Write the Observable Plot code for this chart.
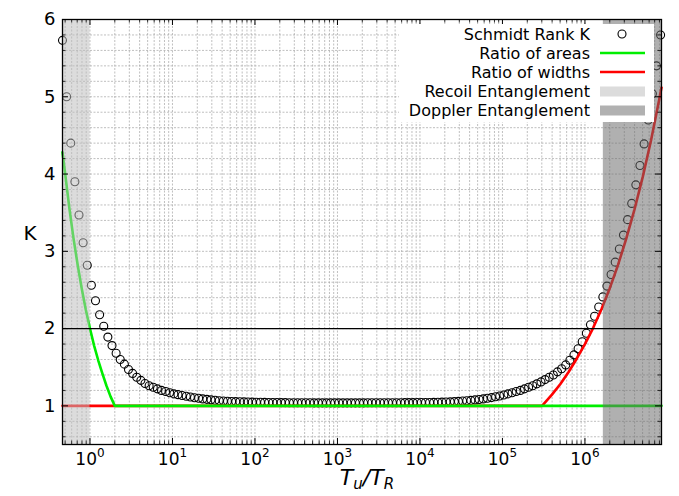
<!DOCTYPE html>
<html><head><meta charset="utf-8">
<script src="https://cdn.jsdelivr.net/npm/d3@7"></script>
<script src="https://cdn.jsdelivr.net/npm/@observablehq/plot@0.6"></script>
<style>body{margin:0;background:#fff;} svg{font-family:"DejaVu Sans",sans-serif;}</style>
</head><body><div id="chart"></div>
<script>
// log10 of T_u/T_R for each Schmidt-rank sample
const schmidtExp = [
-0.333,-0.283,-0.233,-0.183,-0.133,-0.083,-0.033,0.017,0.067,0.117,
0.167,0.217,0.267,0.317,0.367,0.417,0.467,0.517,0.567,0.617,
0.667,0.717,0.767,0.817,0.867,0.917,0.967,1.017,1.067,1.117,
1.167,1.217,1.267,1.317,1.367,1.417,1.467,1.517,1.567,1.617,
1.667,1.717,1.767,1.817,1.867,1.917,1.967,2.017,2.067,2.117,
2.167,2.217,2.267,2.317,2.367,2.417,2.467,2.517,2.567,2.617,
2.667,2.717,2.767,2.817,2.867,2.917,2.967,3.017,3.067,3.117,
3.167,3.217,3.267,3.317,3.367,3.417,3.467,3.517,3.567,3.617,
3.667,3.717,3.767,3.817,3.867,3.917,3.967,4.017,4.067,4.117,
4.167,4.217,4.267,4.317,4.367,4.417,4.467,4.517,4.567,4.617,
4.667,4.717,4.767,4.817,4.867,4.917,4.967,5.017,5.067,5.117,
5.167,5.217,5.267,5.317,5.367,5.417,5.467,5.517,5.567,5.617,
5.667,5.717,5.767,5.817,5.867,5.917,5.967,6.017,6.067,6.117,
6.167,6.217,6.267,6.317,6.367,6.417,6.467,6.517,6.567,6.617,
6.667,6.717,6.767,6.817,6.867,6.917];
const schmidtK = [
5.73,5.00,4.40,3.90,3.47,3.11,2.82,2.56,2.36,2.18,
2.03,1.89,1.78,1.68,1.60,1.54,1.47,1.42,1.37,1.33,
1.29,1.26,1.24,1.22,1.20,1.185,1.17,1.155,1.145,1.135,
1.125,1.115,1.105,1.098,1.09,1.084,1.078,1.072,1.067,1.063,
1.06,1.057,1.055,1.053,1.051,1.05,1.048,1.047,1.046,1.045,
1.044,1.043,1.043,1.042,1.042,1.041,1.041,1.040,1.040,1.040,
1.040,1.039,1.039,1.039,1.039,1.039,1.039,1.039,1.039,1.039,
1.039,1.039,1.039,1.039,1.040,1.040,1.040,1.040,1.041,1.041,
1.041,1.041,1.041,1.042,1.042,1.042,1.043,1.043,1.044,1.044,
1.045,1.046,1.048,1.05,1.052,1.055,1.058,1.062,1.066,1.071,
1.077,1.083,1.09,1.098,1.107,1.117,1.128,1.14,1.155,1.17,
1.185,1.20,1.22,1.24,1.26,1.285,1.31,1.34,1.37,1.40,
1.44,1.48,1.53,1.59,1.66,1.74,1.83,1.94,2.05,2.16,
2.28,2.41,2.55,2.70,2.86,3.03,3.21,3.41,3.62,3.86,
4.11,4.39,4.70,5.04,5.40,5.80];

const areaExp = [-0.333,-0.3,-0.25,-0.2,-0.15,-0.1,-0.05,0,0.05,0.1,0.15,0.2,0.25,0.301,6.928];
const areaK   = [4.28,4.0,3.56,3.17,2.83,2.52,2.24,2.0,1.78,1.59,1.42,1.26,1.12,1.0,1.0];

const widthExp = [-0.333,5.48,5.6,5.7,5.8,5.9,6.0,6.1,6.2,6.3,6.4,6.5,6.6,6.7,6.8,6.9,6.928];
const widthK   = [1,1,1.145,1.28,1.435,1.61,1.80,2.01,2.25,2.52,2.82,3.16,3.54,3.96,4.43,4.96,5.12];

const recoilExp = [-0.333, 0];
const dopplerExp = [6.223, 6.928];
const thresholdK = [2];

const xTickExp = [0,1,2,3,4,5,6];
const yTicks = [1,2,3,4,5,6];
const legendLabels = ["Schmidt Rank K","Ratio of areas","Ratio of widths","Recoil Entanglement","Doppler Entanglement"];

const xDomain = [10 ** -0.333, 10 ** 6.928];
const yDomain = [0.5, 6];

const schmidt = schmidtExp.map((e, i) => ({x: 10 ** e, k: schmidtK[i]}));
const areas = areaExp.map((e, i) => ({x: 10 ** e, k: areaK[i]}));
const widths = widthExp.map((e, i) => ({x: 10 ** e, k: widthK[i]}));
const spans = [
  {x1: 10 ** recoilExp[0], x2: 10 ** recoilExp[1], fill: "#bdbdbd"},
  {x1: 10 ** dopplerExp[0], x2: 10 ** dopplerExp[1], fill: "#6a6a6a"}
];

// tick positions (log decades with 2..9 minors)
const xMajor = xTickExp.map(e => 10 ** e);
const xMinor = [];
for (let e = -1; e <= 6; e++) for (let m = 2; m <= 9; m++) {
  const v = m * 10 ** e;
  if (v >= xDomain[0] && v <= xDomain[1]) xMinor.push(v);
}
const yMinor = [];
for (let v = 6; v <= 60; v += 2) if (v % 10 !== 0) yMinor.push(v / 10);
const yAllGrid = [];
for (let v = 6; v <= 60; v += 2) yAllGrid.push(v / 10);

const W = 679, H = 496, mL = 62, mR = 18, mT = 19, mB = 52;
const pH = H - mT - mB, pW = W - mL - mR;
const gridStyle = {stroke: "#a0a0a0", strokeWidth: 0.8, strokeDasharray: "2,1.5", strokeOpacity: 0.85};

const plot = Plot.plot({
  width: W, height: H,
  marginLeft: mL, marginRight: mR, marginTop: mT, marginBottom: mB,
  x: {type: "log", domain: xDomain, label: null},
  y: {domain: yDomain, label: null},
  style: {fontFamily: "DejaVu Sans, sans-serif", fontSize: "17px", background: "white", color: "black"},
  marks: [
    Plot.ruleX(xMajor.concat(xMinor), {x: d => d, ...gridStyle}),
    Plot.ruleY(yAllGrid, {y: d => d, ...gridStyle}),
    Plot.dot(schmidt, {x: "x", y: "k", r: 4, stroke: "black", fill: "none", strokeWidth: 1.1}),
    Plot.line(widths, {x: "x", y: "k", stroke: "#ff0000", strokeWidth: 2.6}),
    Plot.line(areas, {x: "x", y: "k", stroke: "#00ee00", strokeWidth: 2.6}),
    Plot.rect(spans, {x1: "x1", x2: "x2", fill: "fill", fillOpacity: 0.53}),
    Plot.ruleY(thresholdK, {y: d => d, stroke: "black", strokeWidth: 1.3}),
    // inward ticks on all four sides
    Plot.ruleX(xMajor, {x: d => d, insetTop: pH - 6, stroke: "black", strokeWidth: 1}),
    Plot.ruleX(xMinor, {x: d => d, insetTop: pH - 3.5, stroke: "black", strokeWidth: 0.8}),
    Plot.ruleX(xMajor, {x: d => d, insetBottom: pH - 6, stroke: "black", strokeWidth: 1}),
    Plot.ruleX(xMinor, {x: d => d, insetBottom: pH - 3.5, stroke: "black", strokeWidth: 0.8}),
    Plot.ruleY(yTicks, {y: d => d, insetRight: pW - 6, stroke: "black", strokeWidth: 1}),
    Plot.ruleY(yMinor, {y: d => d, insetRight: pW - 3.5, stroke: "black", strokeWidth: 0.8}),
    Plot.ruleY(yTicks, {y: d => d, insetLeft: pW - 6, stroke: "black", strokeWidth: 1}),
    Plot.ruleY(yMinor, {y: d => d, insetLeft: pW - 3.5, stroke: "black", strokeWidth: 0.8}),
    Plot.frame({stroke: "black", strokeWidth: 1.3}),
    Plot.axisX({ticks: xMajor, tickSize: 0, tickPadding: 8,
      tickFormat: d => "10^" + Math.round(Math.log10(d)), label: null}),
    Plot.axisY({ticks: yTicks, tickSize: 0, tickPadding: 7, tickFormat: d => String(d), label: null}),
    Plot.text(["K"], {text: d => d, frameAnchor: "left", dx: -39, dy: 2})
  ]
});

const svg = d3.select(plot);
// font sizes
svg.selectAll('g[aria-label="y-axis tick label"]').attr("font-size", "18px");
svg.selectAll('g[aria-label="x-axis tick label"]').attr("font-size", "17px");
svg.selectAll('g[aria-label="text"]').attr("font-size", "20px");
// superscript exponents on x tick labels
svg.selectAll('g[aria-label="x-axis tick label"] text').each(function () {
  const parts = this.textContent.split("^");
  const s = d3.select(this);
  s.text(parts[0]);
  s.append("tspan").attr("dy", "-8").attr("font-size", "12px").text(parts[1]);
});

// x axis title T_u / T_R
const xl = svg.append("text").attr("x", 367).attr("y", 485).attr("text-anchor", "middle")
  .attr("font-size", 22).attr("font-style", "italic").attr("fill", "black");
xl.append("tspan").text("T");
xl.append("tspan").attr("dy", 4).attr("font-size", 15).text("u");
xl.append("tspan").attr("dy", -4).text("/T");
xl.append("tspan").attr("dy", 4).attr("font-size", 15).text("R");

// legend inside the axes (upper right)
const lg = svg.append("g").attr("font-size", 16).attr("fill", "black");
lg.append("rect").attr("x", 399).attr("y", 24).attr("width", 255).attr("height", 98).attr("fill", "white");
const rowY = [34, 53, 72, 91, 110];
legendLabels.forEach((t, i) => {
  lg.append("text").attr("x", 590).attr("y", rowY[i]).attr("text-anchor", "end")
    .attr("dy", "0.35em").text(t);
});
lg.append("circle").attr("cx", 622).attr("cy", rowY[0]).attr("r", 4).attr("fill", "none").attr("stroke", "black").attr("stroke-width", 1.1);
lg.append("line").attr("x1", 600).attr("x2", 645).attr("y1", rowY[1]).attr("y2", rowY[1]).attr("stroke", "#00ee00").attr("stroke-width", 2.6);
lg.append("line").attr("x1", 600).attr("x2", 645).attr("y1", rowY[2]).attr("y2", rowY[2]).attr("stroke", "#ff0000").attr("stroke-width", 2.6);
lg.append("rect").attr("x", 600).attr("y", rowY[3] - 4.5).attr("width", 45).attr("height", 10).attr("fill", "#dcdcdc");
lg.append("rect").attr("x", 600).attr("y", rowY[4] - 4.5).attr("width", 45).attr("height", 10).attr("fill", "#b1b1b1");

document.getElementById("chart").appendChild(plot);
</script>
</body></html>
